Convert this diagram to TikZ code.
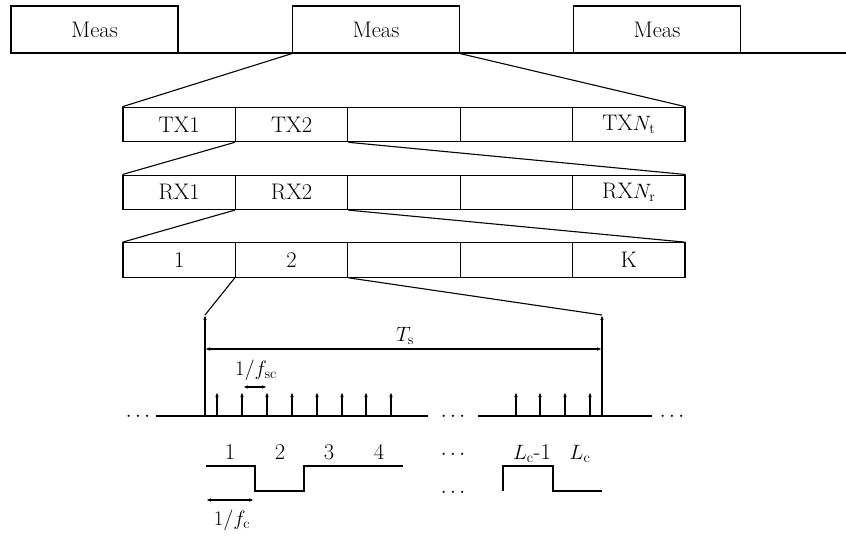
\documentclass[tikz,border=0pt]{standalone}
\usetikzlibrary{arrows.meta}
\begin{document}
\begin{tikzpicture}[x=1pt,y=-1pt,line width=1.1pt,
  txt/.style={font=\fontsize{22.5}{27}\selectfont},
  measbox/.style={txt,draw,minimum width=167pt,minimum height=47pt,inner sep=0pt},
  cell/.style={txt,draw,minimum width=112.4pt,minimum height=34.5pt,inner sep=0pt},
  lab/.style={txt,inner sep=0pt},
  arr/.style={-{Latex[length=5pt,width=3.6pt]}},
  darr/.style={{Latex[length=5pt,width=3.6pt]}-{Latex[length=5pt,width=3.6pt]}}]
\useasboundingbox (0,0) rectangle (846,536);
% top time line
\coordinate (tl0) at (11,53);
\coordinate (tl1) at (846,53);
\draw (tl0) -- (tl1);
\node[measbox] (m1) at (94.5,29.5) {Meas};
\node[measbox] (m2) at (376,29.5) {Meas};
\node[measbox] (m3) at (657,29.5) {Meas};
% TX row
\node[cell] (tx1) at (179.2,124.5) {TX1};
\node[cell] (tx2) at (291.6,124.5) {TX2};
\node[cell] (tx3) at (404.0,124.5) {};
\node[cell] (tx4) at (516.4,124.5) {};
\node[cell] (tx5) at (628.8,124.5) {TX$N_\mathrm{t}$};
% RX row
\node[cell] (rx1) at (179.2,192.3) {RX1};
\node[cell] (rx2) at (291.6,192.3) {RX2};
\node[cell] (rx3) at (404.0,192.3) {};
\node[cell] (rx4) at (516.4,192.3) {};
\node[cell] (rx5) at (628.8,192.3) {RX$N_\mathrm{r}$};
% K row
\node[cell] (k1) at (179.2,260) {1};
\node[cell] (k2) at (291.6,260) {2};
\node[cell] (k3) at (404.0,260) {};
\node[cell] (k4) at (516.4,260) {};
\node[cell] (k5) at (628.8,260) {K};
% fan lines
\draw (m2.south west) -- (tx1.north west);
\draw (m2.south east) -- (tx5.north east);
\draw (tx2.south west) -- (rx1.north west);
\draw (tx2.south east) -- (rx5.north east);
\draw (rx2.south west) -- (k1.north west);
\draw (rx2.south east) -- (k5.north east);
% symbol time axis
\coordinate (aL) at (205,416);
\coordinate (aLt) at (205,315);
\coordinate (aR) at (602,416);
\coordinate (aRt) at (602,315);
\draw (k2.south west) -- (aLt);
\draw (k2.south east) -- (aRt);
\draw[arr] (aL) -- (aLt);
\draw[arr] (aR) -- (aRt);
\coordinate (b0) at (156,416);
\coordinate (b1) at (428,416);
\coordinate (b2) at (478,416);
\coordinate (b3) at (652,416);
\draw (b0) -- (b1);
\draw (b2) -- (b3);
\node[lab,anchor=base] (d1) at (138,421) {$\cdots$};
\node[lab,anchor=base] (d2) at (453,421) {$\cdots$};
\node[lab,anchor=base] (d3) at (672,421) {$\cdots$};
\foreach \i/\x in {1/217,2/242,3/267,4/292,5/317,6/342,7/366,8/391,9/516,10/540,11/565,12/590}{
  \coordinate (sb\i) at (\x,416);
  \coordinate (st\i) at (\x,392);
  \draw[arr] (sb\i) -- (st\i);
}
% Ts
\coordinate (ts1) at (205,349);
\coordinate (ts2) at (602,349);
\draw[darr] (ts1) -- (ts2);
\node[lab] (tsl) at (405,336) {$T_\mathrm{s}$};
% 1/fsc
\coordinate (sc1) at (243,387);
\coordinate (sc2) at (267,387);
\draw[darr] (sc1) -- (sc2);
\node[lab] (scl) at (256,370) {$1/f_\mathrm{sc}$};
% chip sequence
\node[lab,anchor=base] (c1) at (230,459) {1};
\node[lab,anchor=base] (c2) at (280,459) {2};
\node[lab,anchor=base] (c3) at (329,459) {3};
\node[lab,anchor=base] (c4) at (379,459) {4};
\node[lab,anchor=base] (c5) at (453,459) {$\cdots$};
\node[lab,anchor=base] (c6) at (532,459) {$L_\mathrm{c}$-1};
\node[lab,anchor=base] (c7) at (580,459) {$L_\mathrm{c}$};
\node[lab,anchor=base] (c8) at (453,497) {$\cdots$};
\draw (206,466) -- (255,466) -- (255,491) -- (304,491) -- (304,466) -- (403,466);
\draw (503,491) -- (503,466) -- (553,466) -- (553,491) -- (602,491);
\coordinate (fc1) at (206,500);
\coordinate (fc2) at (254,500);
\draw[darr] (fc1) -- (fc2);
\node[lab] (fcl) at (232,520) {$1/f_\mathrm{c}$};
\end{tikzpicture}
\end{document}
